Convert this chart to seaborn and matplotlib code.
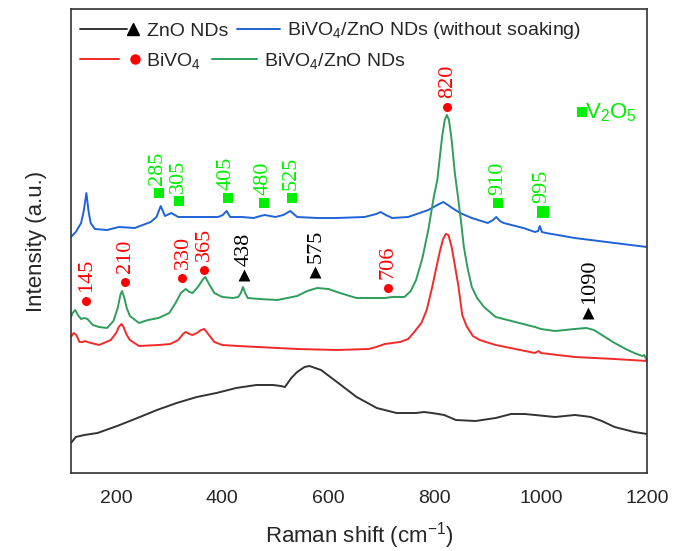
import numpy as np
import pandas as pd
import matplotlib
matplotlib.use('Agg')
import matplotlib.pyplot as plt
import seaborn as sns
from matplotlib.lines import Line2D
from matplotlib.legend import Legend
from matplotlib.legend_handler import HandlerBase

# ---- spectra (intensity in arbitrary units) ----
zno_x = [115, 124, 140, 165, 202, 240, 277, 314, 352, 389, 426, 464, 496, 510, 518, 530, 541, 555, 564,
         575, 586, 616, 653, 691, 728, 765, 780, 795, 818, 840, 877, 915, 944, 970, 989, 1027, 1064,
         1080, 1094, 1115, 1139, 1176, 1200]
zno_y = [30, 36, 38, 40, 47, 55, 63, 70, 76, 80, 85, 88, 88, 87, 86, 95, 101, 106, 107,
         105, 103, 91, 76, 65, 60, 60, 61, 60, 58, 53, 52, 55, 59, 59, 58, 56, 58,
         57, 56, 52, 46, 41, 39]

bivo4_x = [115, 120, 125, 131, 137, 141, 146, 153, 168, 190, 200, 205, 210, 214, 220, 226, 243, 280, 302,
           317, 326, 331, 338, 344, 352, 360, 366, 372, 385, 400, 430, 467, 541, 616, 676, 690, 706,
           720, 735, 750, 760, 775, 785, 795, 803, 810, 816, 821, 826, 832, 838, 845, 852, 860, 872,
           885, 915, 952, 989, 996, 1000, 1064, 1139, 1200]
bivo4_y = [136, 140, 138, 131, 131, 132, 131, 130, 128, 133, 140, 146, 149, 146, 138, 133, 127, 128, 129,
           133, 139, 141, 139, 138, 140, 143, 144, 140, 131, 128, 127, 126, 124, 123, 124, 126, 129,
           130, 131, 134, 140, 150, 163, 185, 205, 222, 234, 239, 238, 226, 208, 186, 158, 147, 137,
           133, 128, 124, 120, 122, 120, 116, 114, 112]

nosoak_x = [115, 124, 134, 139, 144, 148, 152, 160, 183, 205, 235, 265, 276, 284, 292, 304, 317, 355, 392,
            401, 408, 415, 437, 459, 472, 480, 490, 500, 515, 528, 541, 579, 616, 668, 690, 698, 708,
            720, 750, 788, 805, 816, 825, 833, 848, 870, 900, 910, 916, 923, 930, 967, 989, 995, 998,
            1002, 1010, 1064, 1139, 1200]
nosoak_y = [236, 241, 250, 262, 280, 262, 250, 244, 243, 246, 245, 251, 256, 267, 257, 260, 256, 256, 256,
            258, 262, 256, 256, 255, 257, 258, 257, 256, 258, 262, 256, 255, 255, 256, 259, 261, 258,
            255, 256, 263, 268, 271, 268, 265, 260, 255, 250, 253, 256, 252, 250, 245, 241, 242, 247,
            241, 240, 235, 230, 226]

comp_x = [115, 118, 123, 128, 134, 140, 146, 156, 168, 183, 195, 203, 208, 211, 215, 220, 226, 243, 260,
          280, 300, 312, 322, 331, 338, 344, 354, 364, 368, 376, 385, 400, 420, 430, 435, 439, 443, 448,
          470, 504, 541, 560, 579, 600, 616, 640, 653, 706, 720, 743, 755, 765, 777, 788, 798, 805,
          814, 819, 823, 827, 832, 838, 844, 850, 855, 862, 870, 880, 893, 915, 952, 989, 1000, 1027,
          1064, 1086, 1100, 1109, 1139, 1160, 1176, 1191, 1195, 1200]
comp_y = [156, 160, 163, 158, 154, 155, 154, 148, 146, 145, 152, 165, 178, 182, 176, 165, 157, 150, 153,
          155, 160, 170, 180, 184, 181, 180, 186, 194, 196, 188, 180, 176, 175, 176, 180, 186, 180, 175,
          174, 173, 177, 182, 185, 184, 181, 177, 175, 175, 176, 176, 182, 193, 215, 243, 275, 293,
          336, 353, 358, 353, 333, 300, 276, 250, 226, 205, 186, 175, 166, 156, 151, 146, 144, 142,
          144, 145, 143, 140, 130, 124, 120, 117, 118, 112]

# ---- peak assignments ----
v2o5_labels = ['285', '305', '405', '480', '525', '910', '995']
v2o5_x = [280, 319, 410, 479, 532, 920, 1004]
v2o5_y = [280, 272, 275, 270, 275, 270, 261]

bivo4_labels = ['145', '210', '330', '365', '706', '820']
bivo4_pk_x = [144, 217, 325, 366, 712, 824]
bivo4_pk_y = [172, 191, 195, 203, 185, 366]

zno_labels = ['438', '575', '1090']
zno_pk_x = [440, 575, 1089]
zno_pk_y = [198, 201, 160]

series_names = ['ZnO NDs', 'BiVO$_4$/ZnO NDs (without soaking)', 'BiVO$_4$', 'BiVO$_4$/ZnO NDs']
series_colors = ['#333333', '#1f63d8', '#f22a2a', '#2e9e5b']

sns.set_style('white')
plt.rcParams['font.family'] = ['Liberation Sans', 'DejaVu Sans']
plt.rcParams['mathtext.fontset'] = 'custom'
plt.rcParams['mathtext.rm'] = 'Liberation Sans'
plt.rcParams['mathtext.it'] = 'Liberation Sans:italic'
plt.rcParams['mathtext.bf'] = 'Liberation Sans:bold'

fig = plt.figure(figsize=(6.82, 5.51), dpi=100)
ax = fig.add_axes([71 / 682, 78 / 551, 576 / 682, 464 / 551])

curves = [(zno_x, zno_y), (nosoak_x, nosoak_y), (bivo4_x, bivo4_y), (comp_x, comp_y)]
for (cx, cy), col in zip(curves, series_colors):
    sns.lineplot(x=cx, y=cy, color=col, lw=1.4, sort=False, estimator=None, ax=ax)

lime = '#00ee00'
serif = 'Liberation Serif'

# V2O5 squares
sizes = [7.2 ** 2] * (len(v2o5_x) - 1) + [8.8 ** 2]
ax.scatter(v2o5_x, v2o5_y, marker='s', s=sizes, color=lime, linewidths=0, zorder=3)
for lab, px, py, sz in zip(v2o5_labels, v2o5_x, v2o5_y, sizes):
    ax.text(px - 2, py + np.sqrt(sz) / 2 * 1.39 + 3, lab, rotation=90, ha='center', va='bottom',
            color=lime, fontsize=16, family=serif)

# BiVO4 dots
sns.scatterplot(x=bivo4_pk_x, y=bivo4_pk_y, marker='o', s=6.5 ** 2, color='#ff0000',
                linewidth=0, zorder=3, ax=ax)
for lab, px, py in zip(bivo4_labels, bivo4_pk_x, bivo4_pk_y):
    ax.text(px + 1, py + 9, lab, rotation=90, ha='center', va='bottom',
            color='#ff0000', fontsize=16, family=serif)

# ZnO triangles
sns.scatterplot(x=zno_pk_x, y=zno_pk_y, marker='^', s=8.6 ** 2, color='black',
                linewidth=0, zorder=3, ax=ax)
for lab, px, py in zip(zno_labels, zno_pk_x, zno_pk_y):
    ax.text(px + 2, py + 9, lab, rotation=90, ha='center', va='bottom',
            color='black', fontsize=16, family=serif)

# V2O5 key
ax.scatter([1077], [361], marker='s', s=6.5 ** 2, color=lime, linewidths=0)
ax.text(1084, 355, 'V$_2$O$_5$', color=lime, fontsize=16, ha='left', va='baseline')

ax.set_xlim(115, 1200)
ax.set_ylim(0, 464)
ax.set_xticks(np.arange(200, 1201, 200))
ax.set_xticks(np.arange(300, 1200, 200), minor=True)
ax.set_yticks([])
ax.tick_params(axis='x', which='major', direction='out', length=6.5, width=1.0, labelsize=14,
               pad=6, color='#333333')
ax.tick_params(axis='x', which='minor', direction='out', length=3.5, width=1.0, color='#333333')
for sp in ax.spines.values():
    sp.set_visible(True)
    sp.set_color('#333333')
    sp.set_linewidth(1.2)
ax.set_xlabel('Raman shift (cm$^{-1}$)', fontsize=16, labelpad=9)
ax.set_ylabel('Intensity (a.u.)', fontsize=16, labelpad=17)


class LineMarkerHandler(HandlerBase):
    def __init__(self, line_frac=1.0, marker=None, mcolor='k', ms=6, mpos=0.9):
        super().__init__()
        self.line_frac = line_frac
        self.marker = marker
        self.mcolor = mcolor
        self.ms = ms
        self.mpos = mpos

    def create_artists(self, legend, orig_handle, xdescent, ydescent, width, height, fontsize, trans):
        y = height / 2 - ydescent
        x0 = -xdescent
        ln = Line2D([x0, x0 + width * self.line_frac], [y, y],
                    color=orig_handle.get_color(), lw=orig_handle.get_linewidth())
        ln.set_transform(trans)
        arts = [ln]
        if self.marker:
            mk = Line2D([x0 + width * self.mpos], [y], marker=self.marker, color=self.mcolor,
                        ls='none', ms=self.ms)
            mk.set_transform(trans)
            arts.append(mk)
        return arts


entries = [
    (0, (0.0156, 0.953), 3.0, 0.45, LineMarkerHandler(0.81, '^', 'black', 8.0, 0.905)),
    (1, (0.288, 0.953), 2.2, 0.4, LineMarkerHandler()),
    (2, (0.0156, 0.888), 3.1, 0.3, LineMarkerHandler(0.65, 'o', '#ff0000', 6.5, 0.92)),
    (3, (0.245, 0.888), 2.3, 0.35, LineMarkerHandler()),
]
for idx, anchor, hl, pad, handler in entries:
    h = Line2D([], [], color=series_colors[idx], lw=1.4)
    leg = Legend(ax, [h], [series_names[idx]], loc='center left', bbox_to_anchor=anchor,
                 frameon=False, handlelength=hl, handletextpad=pad, borderpad=0,
                 borderaxespad=0, fontsize=14, handler_map={h: handler})
    ax.add_artist(leg)

fig.savefig('out.png', dpi=100)
